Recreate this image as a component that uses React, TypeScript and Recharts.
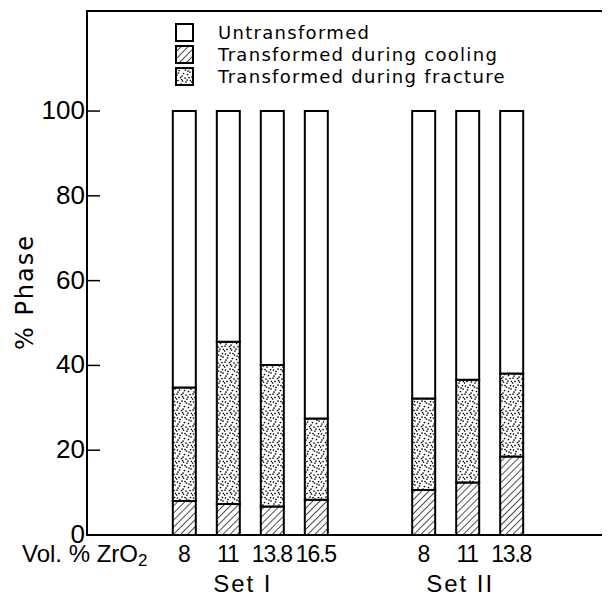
import React from "react";
import { BarChart, Bar, XAxis, YAxis, Legend, ReferenceArea } from "recharts";

// ---- data ----
const zro2Labels = ["8", "11", "13.8", "16.5", "8", "11", "13.8"];
const setOf = ["Set I", "Set I", "Set I", "Set I", "Set II", "Set II", "Set II"];
const cooling = [8.0, 7.3, 6.7, 8.3, 10.6, 12.4, 18.5];
const fracture = [26.8, 38.3, 33.4, 19.2, 21.6, 24.2, 19.6];
const untransformed = [65.2, 54.4, 59.9, 72.5, 67.8, 63.4, 61.9];
const yTicks = [0, 20, 40, 60, 80, 100];
const seriesNames = ["Untransformed", "Transformed during cooling", "Transformed during fracture"];

// ---- layout constants ----
const GROUP_GAP = 1.44;
const X_DOMAIN: [number, number] = [-2.2, 9.64];
const Y_DOMAIN: [number, number] = [0, 123.6];
const FONT = "'Liberation Sans', Arial, sans-serif";
const LFONT = "'DejaVu Sans', sans-serif";

const positions: number[] = [];
{
  let p = 0;
  setOf.forEach((s, i) => {
    if (i > 0) p += s === setOf[i - 1] ? 1 : 1 + GROUP_GAP;
    positions.push(p);
  });
}

const data = zro2Labels.map((z, i) => ({
  pos: positions[i],
  label: z,
  set: setOf[i],
  cooling: cooling[i],
  fracture: fracture[i],
  untransformed: untransformed[i],
}));

const groupNames = Array.from(new Set(setOf));
const groupCenters = groupNames.map((g) => {
  const ps = positions.filter((_, i) => setOf[i] === g);
  return (ps[0] + ps[ps.length - 1]) / 2;
});

const labelAt = (v: number) => {
  const i = positions.findIndex((p) => Math.abs(p - v) < 1e-6);
  return i >= 0 ? zro2Labels[i] : "";
};
const groupAt = (v: number) => {
  const i = groupCenters.findIndex((p) => Math.abs(p - v) < 1e-6);
  return i >= 0 ? groupNames[i] : "";
};

// decorative stipple pattern
const dotPts = [
  [1.5, 2], [6, 1], [10.5, 3], [3.5, 6], [8.5, 6.5], [12.5, 7.5],
  [1, 10], [5.5, 10.5], [10, 11], [3, 13.5], [7.5, 14], [12, 13],
  [14.5, 1.5], [14, 10.5], [4, 3.5], [7, 9], [11, 15], [15, 5],
  [0.5, 15], [9, 1.5], [13, 4], [2, 8], [6.5, 12.5], [15.5, 13.5],
];

const Patterns = ({ prefix = "" }: { prefix?: string }) => (
  <defs>
    <pattern id={prefix + "hatch"} width="5" height="5" patternUnits="userSpaceOnUse" patternTransform="rotate(45)">
      <rect x="0" y="0" width="5" height="5" fill="#fff" />
      <line x1="0" y1="0" x2="0" y2="5" stroke="#000" strokeWidth="1.4" />
    </pattern>
    <pattern id={prefix + "dots"} width="16" height="16" patternUnits="userSpaceOnUse">
      <rect x="0" y="0" width="16" height="16" fill="#fff" />
      {dotPts.map(([cx, cy], i) => (
        <circle key={i} cx={cx} cy={cy} r={0.85} fill="#000" />
      ))}
    </pattern>
  </defs>
);

const legendFills = ["#fff", "url(#lg-hatch)", "url(#lg-dots)"];

const LegendContent = () => (
  <div style={{ fontFamily: LFONT, fontSize: 18, letterSpacing: 1.3, color: "#000" }}>
    <svg width="0" height="0" style={{ position: "absolute" }}>
      <Patterns prefix="lg-" />
    </svg>
    {seriesNames.map((n, i) => (
      <div key={n} style={{ display: "flex", alignItems: "center", height: 22 }}>
        <svg width="20" height="20" style={{ marginRight: 23 }}>
          <rect x="1" y="1" width="17" height="17" fill={legendFills[i]} stroke="#000" strokeWidth="2" />
        </svg>
        <span style={{ lineHeight: "22px" }}>{n}</span>
      </div>
    ))}
  </div>
);

const YTick = (props: any) => {
  const { x, y, payload } = props;
  return (
    <g>
      <line x1={x} x2={x + 13} y1={y} y2={y} stroke="#000" strokeWidth={1.5} />
      <text x={x - 2} y={y} dy={8} textAnchor="end" fontFamily={FONT} fontSize={26} fill="#000">
        {payload.value}
      </text>
    </g>
  );
};

const XTick = (props: any) => {
  const { x, y, payload } = props;
  return (
    <text x={x} y={y} dy={27} textAnchor="middle" fontFamily={FONT} fontSize={23} letterSpacing={-1.2} fill="#000">
      {labelAt(payload.value)}
    </text>
  );
};

const GroupTick = (props: any) => {
  const { x, y, payload } = props;
  return (
    <text x={x - 7} y={y} dy={27} textAnchor="middle" fontFamily={FONT} fontSize={24} letterSpacing={2} fill="#000">
      {groupAt(payload.value)}
    </text>
  );
};

export default function App() {
  return (
    <div style={{ margin: "-8px 0 0 -8px", width: 610, height: 600, background: "#fff" }}>
      <BarChart
        width={610}
        height={600}
        data={data}
        margin={{ top: 11, right: 2, bottom: 0, left: 0 }}
      >
        <Patterns />
        <XAxis
          xAxisId="a"
          dataKey="pos"
          type="number"
          domain={X_DOMAIN}
          ticks={positions}
          allowDataOverflow
          axisLine={false}
          tickLine={false}
          tickSize={0}
          tickMargin={0}
          height={30}
          tick={<XTick />}
          interval={0}
          label={{
            content: () => (
              <text x={22} y={562} fontFamily={FONT} fontSize={24} fill="#000">
                Vol. % ZrO<tspan fontSize={17} dy={4}>2</tspan>
              </text>
            ),
          }}
        />
        <XAxis
          xAxisId="z"
          dataKey="pos"
          type="number"
          domain={X_DOMAIN}
          ticks={groupCenters}
          allowDataOverflow
          axisLine={false}
          tickLine={false}
          tickSize={0}
          tickMargin={0}
          height={35}
          tick={<GroupTick />}
          interval={0}
        />
        <YAxis
          type="number"
          domain={Y_DOMAIN}
          ticks={yTicks}
          allowDataOverflow
          width={87}
          axisLine={false}
          tickLine={false}
          tickSize={0}
          tickMargin={0}
          tick={<YTick />}
          interval={0}
          label={{
            content: () => (
              <text
                x={25}
                y={292}
                transform="rotate(-90, 25, 292)"
                textAnchor="middle"
                dominantBaseline="central"
                fontFamily={LFONT}
                fontSize={24}
                letterSpacing={2}
                fill="#000"
              >
                % Phase
              </text>
            ),
          }}
        />
        <Legend
          layout="vertical"
          align="center"
          verticalAlign="middle"
          wrapperStyle={{ top: 22, left: 175, width: 400 }}
          content={<LegendContent />}
        />
        <Bar xAxisId="a" dataKey="cooling" name={seriesNames[1]} stackId="s" fill="url(#hatch)" stroke="#000" strokeWidth={2} barSize={23} isAnimationActive={false} />
        <Bar xAxisId="a" dataKey="fracture" name={seriesNames[2]} stackId="s" fill="url(#dots)" stroke="#000" strokeWidth={2} barSize={23} isAnimationActive={false} />
        <Bar xAxisId="a" dataKey="untransformed" name={seriesNames[0]} stackId="s" fill="#fff" stroke="#000" strokeWidth={2} barSize={23} isAnimationActive={false} />
        <ReferenceArea
          xAxisId="a"
          x1={X_DOMAIN[0]}
          x2={X_DOMAIN[1]}
          y1={Y_DOMAIN[0]}
          y2={Y_DOMAIN[1]}
          fill="none"
          stroke="#000"
          strokeWidth={2}
          ifOverflow="visible"
        />
      </BarChart>
    </div>
  );
}
